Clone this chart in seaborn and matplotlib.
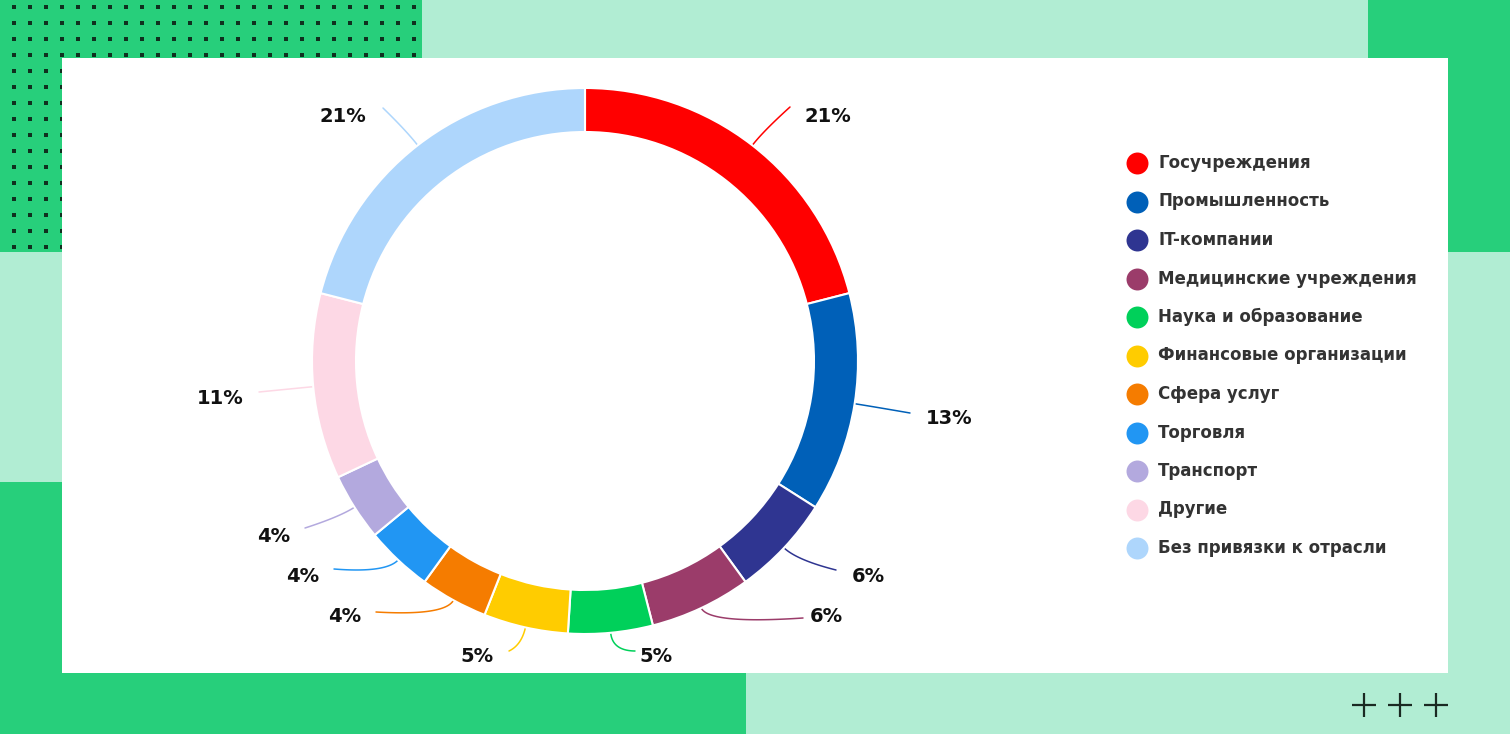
import numpy as np
import matplotlib
matplotlib.use("Agg")
import matplotlib.pyplot as plt
import seaborn as sns
from matplotlib.patches import Rectangle

# ---------------- data ----------------
categories = ["Госучреждения", "Промышленность", "IT-компании", "Медицинские учреждения",
              "Наука и образование", "Финансовые организации", "Сфера услуг", "Торговля",
              "Транспорт", "Другие", "Без привязки к отрасли"]
values = [21, 13, 6, 6, 5, 5, 4, 4, 4, 11, 21]
labels = ["21%", "13%", "6%", "6%", "5%", "5%", "4%", "4%", "4%", "11%", "21%"]
colors = ["#ff0000", "#0060b8", "#2f3591", "#9b3c6a", "#00d05a", "#ffcc00",
          "#f57c00", "#2196f3", "#b3a9de", "#fdd8e5", "#aed6fc"]

# ---------------- layout (pixels) ----------------
W, H = 1510, 734
CX, CY, R, RW = 585, 361, 273, 44
# label text anchor (x, y, ha) and connector end points
label_pos = [(805, 117, "left"), (926, 418, "left"), (852, 576, "left"), (810, 617, "left"),
             (639, 657, "left"), (494, 657, "right"), (361, 617, "right"), (319, 576, "right"),
             (290, 536, "right"), (244, 398, "right"), (366, 117, "right")]
line_end = [(790, 107), (910, 413), (836, 570), (803, 618), (635, 651), (509, 651),
            (376, 612), (334, 569), (305, 528), (259, 392), (383, 108)]

GREEN = "#27cf7b"
MINT = "#b1edd3"

sns.set_theme(style="white")
plt.rcParams["font.family"] = ["DejaVu Sans"]

fig = plt.figure(figsize=(W / 100, H / 100), dpi=100)
fig.patch.set_facecolor(MINT)
ax = fig.add_axes([0, 0, 1, 1])


def Y(y):
    return H - y


# background blocks
def rect(x0, y0, x1, y1, c, z=0):
    ax.add_patch(Rectangle((x0, Y(y1)), x1 - x0, y1 - y0, facecolor=c, edgecolor="none", zorder=z))


rect(0, 0, W, H, MINT, 0)
rect(0, 0, 422, 252, GREEN, 1)
rect(1368, 0, W, 252, GREEN, 1)
rect(0, 482, 746, H, GREEN, 1)

# dot pattern
dx = np.arange(14, 420, 16)
dy = np.arange(7, 250, 16)
gx, gy = np.meshgrid(dx, dy)
ax.scatter(gx.ravel(), Y(gy.ravel()), marker="s", s=5.5, color="#10301f", linewidths=0, zorder=2)

# white card
rect(62, 58, 1448, 673, "white", 3)

# plus signs
for px in (1364, 1400, 1436):
    ax.plot([px - 12, px + 12], [Y(705), Y(705)], color="#1a2a22", lw=1.6, zorder=3, solid_capstyle="butt")
    ax.plot([px, px], [Y(693), Y(717)], color="#1a2a22", lw=1.6, zorder=3, solid_capstyle="butt")

# donut
wedges, _ = ax.pie(values, colors=colors, startangle=90, counterclock=False,
                   center=(CX, Y(CY)), radius=R,
                   wedgeprops=dict(width=RW, edgecolor="white", linewidth=1.5))
for w in wedges:
    w.set_zorder(5)

# labels and connectors
total = sum(values)
start = 90.0
for i, v in enumerate(values):
    ang = start - 360.0 * v / total / 2
    start -= 360.0 * v / total
    th = np.deg2rad(ang)
    ux, uy = np.cos(th), np.sin(th)
    p0 = np.array([CX + R * ux, Y(CY) + R * uy])
    p1 = p0 + 18 * np.array([ux, uy])
    ex, ey = line_end[i]
    p2 = np.array([ex, Y(ey)])
    t = np.linspace(0, 1, 40)[:, None]
    curve = (1 - t) ** 2 * p0 + 2 * (1 - t) * t * p1 + t ** 2 * p2
    ax.plot(curve[:, 0], curve[:, 1], color=colors[i], lw=1.1, zorder=4)
    lx, ly, ha = label_pos[i]
    ax.text(lx, Y(ly), labels[i], ha=ha, va="center", fontsize=14, fontweight="bold",
            color="#111111", zorder=6)

# legend
for i, c in enumerate(categories):
    yy = 163 + i * 38.5
    ax.scatter([1137], [Y(yy)], s=250, color=colors[i], linewidths=0, zorder=6)
    ax.text(1158, Y(yy), c, ha="left", va="center", fontsize=12, fontweight="bold",
            color="#333333", zorder=6)

ax.set_xlim(0, W)
ax.set_ylim(0, H)
ax.set_aspect("auto")
ax.axis("off")

fig.savefig("out.png", dpi=100, facecolor=fig.get_facecolor())
